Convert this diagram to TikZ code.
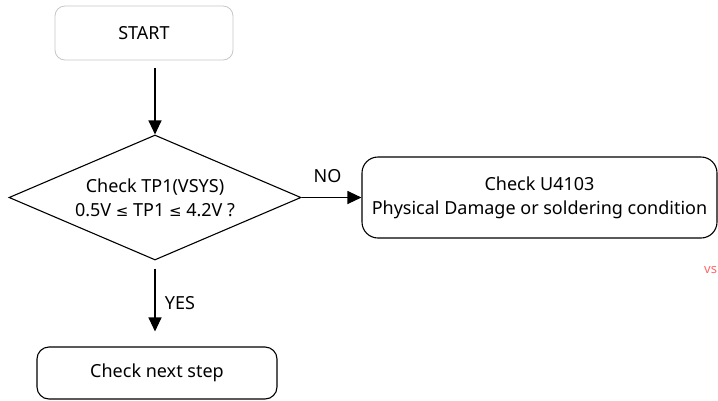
\documentclass[tikz,border=0pt]{standalone}
\usepackage{fontspec}
\setmainfont{Noto Sans}
\newfontfamily\symfont{DejaVu Sans}
\usetikzlibrary{shapes.geometric,arrows.meta}
\begin{document}
\begin{tikzpicture}[x=1pt, y=1pt, font=\fontsize{18}{24}\selectfont]
\tikzstyle{terminal} = [draw=black!22, rounded corners=10pt, line width=0.8pt, minimum width=178pt, minimum height=54pt];
\tikzstyle{decision} = [draw, diamond, line width=1.1pt, inner sep=0pt, aspect=2.336, minimum width=292pt, minimum height=125pt, align=center];
\tikzstyle{process} = [draw, rounded corners=16pt, line width=1.1pt, align=center];
\tikzstyle{flow} = [line width=1.1pt, -{Triangle[width=13pt,length=14pt]}];
\useasboundingbox (0,0) rectangle (718,-400);
\node[terminal] (start) at (144, -33) {START};
\node[decision] (check) at (155, -197.5) {Check TP1(VSYS)\\0.5V {\symfont\fontsize{15}{18}\selectfont ≤} TP1 {\symfont\fontsize{15}{18}\selectfont ≤} 4.2V ?};
\node[process, minimum width=355pt, minimum height=81pt] (damage) at (539.5, -197.5) {Check U4103\\Physical Damage or soldering condition};
\node[process, rounded corners=12pt, minimum width=240pt, minimum height=52pt] (next) at (157, -373) {Check next step};
\node[text=red!60, font=\fontsize{13}{15}\selectfont, anchor=west, inner sep=0pt] (mark) at (704, -270) {vs};
\draw[flow, shorten <=8pt] (start.south -| check.north) -- (check.north);
\draw[flow] (check.east) -- node[above=11pt, xshift=-4pt] {NO} (damage.west);
\draw[flow, shorten <=8pt, shorten >=15pt] (check.south) -- node[right=6pt] {YES} (next.north -| check.south);
\end{tikzpicture}
\end{document}
